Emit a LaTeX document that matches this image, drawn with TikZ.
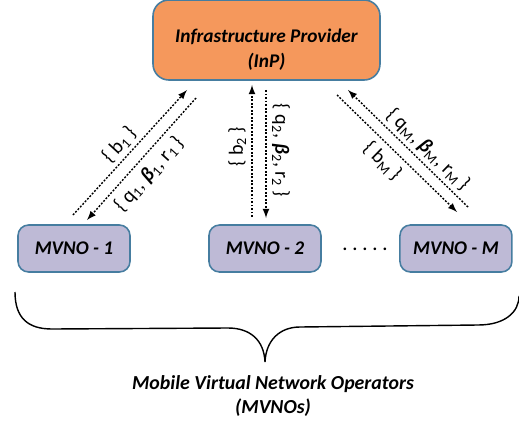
\documentclass[tikz,border=0pt]{standalone}
\usepackage{fontspec}
\setmainfont{Carlito}
\usepackage{tikz}
\usetikzlibrary{arrows}
\definecolor{inporange}{RGB}{245,152,92}
\definecolor{mvnofill}{RGB}{190,186,214}
\definecolor{boxline}{RGB}{70,125,160}

\begin{document}
\begin{tikzpicture}[x=0.02cm,y=-0.02cm,node distance = 3.82cm,auto,inner sep=1pt,
  box/.style={draw=boxline,line width=0.9pt,align=center,
    font=\bfseries\itshape\fontsize{11}{14.5}\selectfont},
  inp/.style={box,fill=inporange,rounded corners=9pt,minimum width=4.54cm,minimum height=1.6cm},
  mvno/.style={box,fill=mvnofill,rounded corners=6pt,minimum width=2.24cm,minimum height=0.94cm},
  flow/.style={->,>=latex,line width=0.8pt,dash pattern=on 1.1pt off 0.9pt},
  lbl/.style={font=\fontsize{11.5}{13}\selectfont,sloped}]
\useasboundingbox (0,0) rectangle (519,422);

\node[inp] (InP) at (266.5,40) {\rule{0pt}{18.5pt}Infrastructure Provider\\(InP)};
\node[mvno] (M1) at (74,248.5) {MVNO - 1};
\node[mvno] (M2) [right of = M1] {MVNO - 2};
\node[mvno] (MM) [right of = M2] {MVNO - M};
\node (dots) at (365,249) {\bfseries . . . . .};

% ends of the dotted arrows
\coordinate (a1) at (73,215);  \coordinate (b1) at (187,90);
\coordinate (c1) at (196,98);  \coordinate (d1) at (87,220);
\coordinate (a2) at (252,217); \coordinate (b2) at (252,85);
\coordinate (c2) at (266,90);  \coordinate (d2) at (266,218);
\coordinate (cM) at (337,95);  \coordinate (dM) at (457,212);
\coordinate (aM) at (468,207); \coordinate (bM) at (348,90);

\path (a1) edge [flow] node[lbl,above=1pt,pos=0.49] {\{ b\textsubscript{1}\,\}} (b1);
\path (c1) edge [flow] node[lbl,below=2.5pt,pos=0.54] {\{ q\textsubscript{1}, \textbf{\textit{β}}\textsubscript{1}, r\textsubscript{1}\,\}} (d1);
\path (a2) edge [flow] node[lbl,above=2pt,pos=0.53] {\{ b\textsubscript{2}\,\}} (b2);
\path (c2) edge [flow] node[lbl,above=2pt,pos=0.47] {\{ q\textsubscript{2}, \textbf{\textit{β}}\textsubscript{2}, r\textsubscript{2}\,\}} (d2);
\path (aM) edge [flow] node[lbl,above=1pt,pos=0.41] {\{ q\textsubscript{M}, \textbf{\textit{β}}\textsubscript{M}, r\textsubscript{M}\,\}} (bM);
\path (cM) edge [flow] node[lbl,below=2.5pt,pos=0.47] {\{ b\textsubscript{M}\,\}} (dM);

% brace under the MVNOs
\draw[line width=0.8pt] (15,292) .. controls (15,318) and (28,329) .. (52,329) -- (228,328)
  .. controls (250,328) and (264,340) .. (265,362)
  .. controls (266,340) and (280,327) .. (300,327) -- (478,325)
  .. controls (505,325) and (519,312) .. (519,296);
\node[align=center,font=\bfseries\itshape\fontsize{11.3}{13.6}\selectfont] (ops) at (273,396)
  {Mobile Virtual Network Operators\\(MVNOs)};
\end{tikzpicture}
\end{document}
